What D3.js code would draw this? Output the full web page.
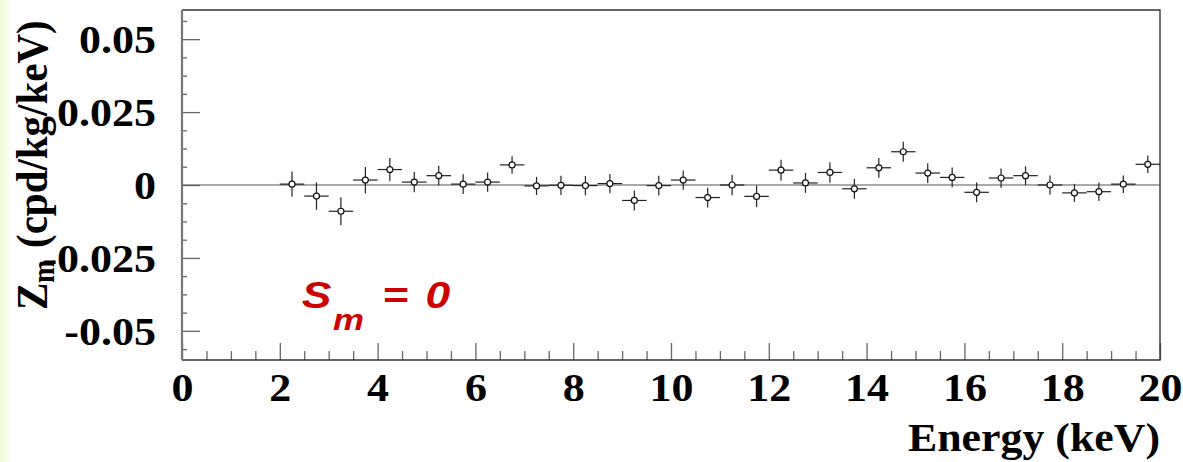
<!DOCTYPE html>
<html>
<head>
<meta charset="utf-8">
<script src="https://cdn.jsdelivr.net/npm/d3@7"></script>
<style>
  body { margin: 0; background: #fff; }
  svg { display: block; }
</style>
</head>
<body>
<div id="chart"></div>
<script>
// bin centres (keV), 0.5 keV bins from 2 to 20
const energies = [2.25, 2.75, 3.25, 3.75, 4.25, 4.75, 5.25, 5.75, 6.25, 6.75,
  7.25, 7.75, 8.25, 8.75, 9.25, 9.75, 10.25, 10.75, 11.25, 11.75,
  12.25, 12.75, 13.25, 13.75, 14.25, 14.75, 15.25, 15.75, 16.25, 16.75,
  17.25, 17.75, 18.25, 18.75, 19.25, 19.75]
const zmValues = [0.0003, -0.0038, -0.0090, 0.0017, 0.0053, 0.0010, 0.0032, 0.0003, 0.0010, 0.0069,
  -0.0003, -0.0001, -0.0002, 0.0005, -0.0053, -0.0002, 0.0017, -0.0043, 0.0000, -0.0039,
  0.0051, 0.0007, 0.0043, -0.0013, 0.0059, 0.0114, 0.0041, 0.0026, -0.0025, 0.0024,
  0.0032, 0.0000, -0.0027, -0.0023, 0.0003, 0.0071]
const zmErrors = [0.0043, 0.0047, 0.0048, 0.0045, 0.0040, 0.0035, 0.0034, 0.0034, 0.0033, 0.0030,
  0.0031, 0.0033, 0.0033, 0.0033, 0.0034, 0.0034, 0.0033, 0.0034, 0.0035, 0.0037,
  0.0036, 0.0034, 0.0035, 0.0034, 0.0034, 0.0034, 0.0034, 0.0034, 0.0034, 0.0033,
  0.0032, 0.0033, 0.0031, 0.0032, 0.0030, 0.0030]
const binHalfWidth = 0.25

const xMajorTicks = [0, 2, 4, 6, 8, 10, 12, 14, 16, 18, 20]
const xMinorTicks = d3.range(0.5, 20, 0.5).filter(v => v % 2 !== 0)
const yMajorTicks = [-0.05, -0.025, 0, 0.025, 0.05]
const yMinorTicks = d3.range(-9, 10).filter(i => i % 4 !== 0).map(i => i * 0.00625)

const W = 1183, H = 462
const frame = {left: 182, right: 1160, top: 10, bottom: 360}
const serif = '"Liberation Serif", "Times New Roman", serif'
const stretch = 1.1  // the original picture is a bit wider than tall

const svg = d3.select('#chart').append('svg')
  .attr('width', W).attr('height', H)

// pale green strip on the left edge
const grad = svg.append('defs').append('linearGradient')
  .attr('id', 'strip').attr('x1', 0).attr('x2', 1)
grad.append('stop').attr('offset', 0).attr('stop-color', '#eefcd6')
grad.append('stop').attr('offset', 1).attr('stop-color', '#fbfff3')
svg.append('rect').attr('x', 0).attr('y', 0).attr('width', 10).attr('height', H)
  .attr('fill', 'url(#strip)')

const x = d3.scaleLinear([0, 20], [frame.left, frame.right])
const y = d3.scaleLinear([-0.06, 0.06], [frame.bottom, frame.top])

// minor ticks first
svg.append('g')
  .attr('transform', `translate(0,${frame.bottom})`)
  .call(d3.axisBottom(x).tickValues(xMinorTicks).tickSize(-9).tickFormat(''))
  .call(g => g.select('.domain').remove())
  .call(g => g.selectAll('line').attr('stroke', '#666').attr('stroke-width', 1.3))

svg.append('g')
  .attr('transform', `translate(${frame.left},0)`)
  .call(d3.axisLeft(y).tickValues(yMinorTicks).tickSize(-5).tickFormat(''))
  .call(g => g.select('.domain').remove())
  .call(g => g.selectAll('line').attr('stroke', '#666').attr('stroke-width', 1.3))

// major ticks + labels
svg.append('g')
  .attr('transform', `translate(0,${frame.bottom})`)
  .call(d3.axisBottom(x).tickValues(xMajorTicks).tickSize(-17).tickPadding(0).tickFormat(d3.format('d')))
  .call(g => g.select('.domain').remove())
  .call(g => g.selectAll('line').attr('stroke', '#666').attr('stroke-width', 1.3))
  .call(g => g.selectAll('text')
    .attr('y', 41).attr('dy', null)
    .attr('transform', `scale(${stretch},1)`)
    .attr('font-family', serif).attr('font-weight', 'bold').attr('font-size', 40)
    .attr('fill', '#000'))

svg.append('g')
  .attr('transform', `translate(${frame.left},0)`)
  .call(d3.axisLeft(y).tickValues(yMajorTicks).tickSize(-18).tickPadding(26 / stretch)
    .tickFormat(d => d === 0 ? '0' : String(d)))
  .call(g => g.select('.domain').remove())
  .call(g => g.selectAll('line').attr('stroke', '#666').attr('stroke-width', 1.3))
  .call(g => g.selectAll('text')
    .attr('dy', '0.34em')
    .attr('transform', `scale(${stretch},1)`)
    .attr('font-family', serif).attr('font-weight', 'bold').attr('font-size', 40)
    .attr('fill', '#000'))

// frame
svg.append('path')
  .attr('d', `M${frame.left},${frame.top}H${frame.right}V${frame.bottom}H${frame.left}`)
  .attr('fill', 'none').attr('stroke', '#333').attr('stroke-width', 1.4)
svg.append('line')
  .attr('x1', frame.left).attr('x2', frame.left)
  .attr('y1', frame.top).attr('y2', frame.bottom)
  .attr('stroke', '#777').attr('stroke-width', 2.2)

// zero line
svg.append('line')
  .attr('x1', frame.left).attr('x2', frame.right)
  .attr('y1', y(0)).attr('y2', y(0))
  .attr('stroke', '#555').attr('stroke-width', 1.2)

// data points with error bars
const data = energies.map((e, i) => ({e: e, v: zmValues[i], err: zmErrors[i]}))
const pts = svg.append('g').selectAll('g')
  .data(data)
  .enter()
    .append('g')

pts.append('line')
  .attr('x1', d => x(d.e - binHalfWidth)).attr('x2', d => x(d.e + binHalfWidth))
  .attr('y1', d => y(d.v)).attr('y2', d => y(d.v))
  .attr('stroke', '#222').attr('stroke-width', 1.2)
pts.append('line')
  .attr('x1', d => x(d.e)).attr('x2', d => x(d.e))
  .attr('y1', d => y(d.v - d.err)).attr('y2', d => y(d.v + d.err))
  .attr('stroke', '#222').attr('stroke-width', 1.2)
pts.append('circle')
  .attr('cx', d => x(d.e)).attr('cy', d => y(d.v))
  .attr('r', 3)
  .attr('fill', '#fff').attr('stroke', '#111').attr('stroke-width', 1.2)

// axis titles
svg.append('text')
  .attr('transform', `translate(${frame.right},451) scale(1.07,1)`)
  .attr('text-anchor', 'end')
  .attr('font-family', serif).attr('font-weight', 'bold').attr('font-size', 41)
  .text('Energy (keV)')

const ylab = svg.append('text')
  .attr('transform', `translate(47,310) scale(${stretch},1) rotate(-90)`)
  .attr('font-family', serif).attr('font-weight', 'bold').attr('font-size', 41)
ylab.append('tspan').attr('x', 0).attr('y', 0).text('Z')
ylab.append('tspan').attr('x', 27).attr('y', 6).attr('font-size', 28).text('m')
ylab.append('tspan').attr('x', 62).attr('y', 0).text('(cpd/kg/keV)')

// Sm = 0 annotation
const sm = svg.append('text')
  .attr('transform', 'translate(303,308) scale(1.2,1)')
  .attr('font-family', '"Liberation Sans", Arial, sans-serif')
  .attr('font-weight', 'bold').attr('font-style', 'italic')
  .attr('fill', '#cc0000')
sm.append('tspan').attr('x', -1).attr('y', 0).attr('font-size', 37).text('S')
sm.append('tspan').attr('x', 25).attr('y', 22).attr('font-size', 29).text('m')
sm.append('tspan').attr('x', 66).attr('y', 0).attr('font-size', 37).text('=')
sm.append('tspan').attr('x', 102).attr('y', 0).attr('font-size', 37).text('0')
</script>
</body>
</html>
